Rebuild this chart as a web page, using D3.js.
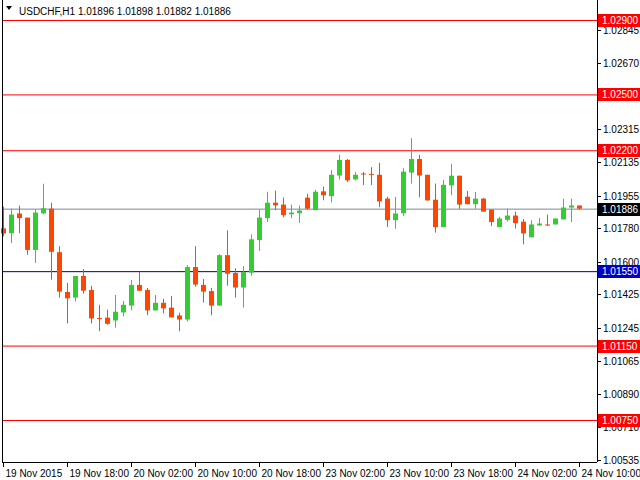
<!DOCTYPE html>
<html>
<head>
<meta charset="utf-8">
<script src="https://cdn.jsdelivr.net/npm/d3@7"></script>
<style>
  body { margin: 0; background: #fff; }
  text { font-family: "Liberation Sans", "DejaVu Sans", sans-serif; font-size: 10px; }
</style>
</head>
<body>
<svg id="chart" width="640" height="480"></svg>
<script>
// USDCHF H1 candles
const opens  = [1.01780,1.01754,1.01860,1.01838,1.01664,1.01861,1.01886,1.01652,1.01438,1.01408,1.01524,1.01449,1.01298,1.01300,1.01285,1.01328,1.01365,1.01476,1.01449,1.01339,1.01380,1.01354,1.01312,1.01290,1.01572,1.01476,1.01443,1.01365,1.01636,1.01540,1.01462,1.01542,1.01717,1.01835,1.01918,1.01908,1.01856,1.01862,1.01945,1.01878,1.01979,1.01953,1.02064,1.02148,1.02043,1.02075,1.02073,1.02068,1.01940,1.01824,1.01861,1.02080,1.02153,1.02068,1.01934,1.01787,1.02011,1.02063,1.01950,1.01910,1.01940,1.01881,1.01787,1.01826,1.01849,1.01816,1.01732,1.01796,1.01801,1.01801,1.01828,1.01892,1.01903];
const highs  = [1.01897,1.01886,1.01902,1.01838,1.01881,1.02020,1.01918,1.01684,1.01487,1.01524,1.01561,1.01471,1.01369,1.01343,1.01422,1.01390,1.01503,1.01545,1.01460,1.01422,1.01401,1.01417,1.01327,1.01582,1.01684,1.01508,1.01460,1.01641,1.01769,1.01566,1.01577,1.01748,1.01881,1.01977,1.01983,1.01945,1.01908,1.01902,1.01966,1.01988,1.02004,1.02094,1.02176,1.02153,1.02083,1.02083,1.02109,1.02132,1.01950,1.01949,1.02103,1.02265,1.02175,1.02068,1.02021,1.02041,1.02127,1.02063,1.01981,1.01976,1.01944,1.01881,1.01842,1.01886,1.01870,1.01830,1.01824,1.01836,1.01854,1.01833,1.01940,1.01940,1.01903];
const lows   = [1.01737,1.01701,1.01754,1.01638,1.01594,1.01856,1.01504,1.01408,1.01269,1.01387,1.01429,1.01269,1.01227,1.01262,1.01246,1.01307,1.01339,1.01445,1.01313,1.01339,1.01323,1.01302,1.01227,1.01279,1.01467,1.01381,1.01313,1.01365,1.01472,1.01408,1.01354,1.01526,1.01659,1.01814,1.01878,1.01840,1.01835,1.01809,1.01881,1.01878,1.01931,1.01920,1.02043,1.02029,1.02038,1.02013,1.02013,1.01894,1.01787,1.01778,1.01847,1.02021,1.01947,1.01930,1.01757,1.01787,1.01958,1.01885,1.01910,1.01885,1.01870,1.01793,1.01787,1.01817,1.01779,1.01694,1.01732,1.01793,1.01793,1.01801,1.01828,1.01814,1.01881];
const closes = [1.01753,1.01854,1.01835,1.01664,1.01865,1.01888,1.01654,1.01440,1.01404,1.01524,1.01445,1.01296,1.01296,1.01267,1.01332,1.01369,1.01476,1.01445,1.01339,1.01380,1.01350,1.01302,1.01290,1.01572,1.01478,1.01440,1.01365,1.01636,1.01536,1.01462,1.01545,1.01721,1.01838,1.01918,1.01904,1.01851,1.01865,1.01876,1.01886,1.01977,1.01958,1.02068,1.02148,1.02038,1.02068,1.02072,1.02070,1.01925,1.01824,1.01860,1.02085,1.02153,1.02064,1.01930,1.01787,1.02014,1.02063,1.01908,1.01910,1.01940,1.01870,1.01814,1.01833,1.01849,1.01808,1.01753,1.01801,1.01806,1.01798,1.01833,1.01892,1.01903,1.01886];

const priceTicks = [1.02845,1.02670,1.02315,1.02135,1.01955,1.01780,1.01600,1.01425,1.01245,1.01065,1.00890,1.00710,1.00535];
const redLevels = [1.02900,1.02500,1.02200,1.01150,1.00750];
const blueLevel = 1.01550;
const bidPrice = 1.01886;
const timeIndex = [0,8,16,24,32,40,48,56,64,72];
const timeLabels = ["19 Nov 2015","19 Nov 18:00","20 Nov 02:00","20 Nov 10:00","20 Nov 18:00","23 Nov 02:00","23 Nov 10:00","23 Nov 18:00","24 Nov 02:00","24 Nov 10:00"];

const svg = d3.select("#chart");
const plotRight = 597, plotBottom = 462;

const x = d3.scaleLinear().domain([0, 72]).range([3, 579]);
const y = d3.scaleLinear().domain([1.029, 1.0075]).range([20, 420]);

const candles = opens.map((o, i) => ({ i, o, h: highs[i], l: lows[i], c: closes[i] }));

// level lines
svg.append("g").selectAll("line").data(redLevels).enter().append("line")
    .attr("x1", 2).attr("x2", plotRight).attr("y1", d => y(d) + 0.5).attr("y2", d => y(d) + 0.5)
    .attr("stroke", "#ff0000");
svg.append("line").attr("x1", 2).attr("x2", plotRight)
    .attr("y1", y(blueLevel) + 0.5).attr("y2", y(blueLevel) + 0.5).attr("stroke", "#000080");
svg.append("line").attr("x1", 2).attr("x2", plotRight)
    .attr("y1", y(bidPrice) + 0.5).attr("y2", y(bidPrice) + 0.5).attr("stroke", "#778899");

// candles
const g = svg.append("g").selectAll("g").data(candles).enter().append("g");
const col = d => d.c >= d.o ? "#32cd32" : "#ff4500";
g.append("line")
    .attr("x1", d => Math.round(x(d.i)) + 0.5).attr("x2", d => Math.round(x(d.i)) + 0.5)
    .attr("y1", d => y(d.h)).attr("y2", d => y(d.l))
    .attr("stroke", col);
g.append("rect")
    .attr("x", d => Math.round(x(d.i)) - 2)
    .attr("width", 5)
    .attr("y", d => y(Math.max(d.o, d.c)))
    .attr("height", d => Math.max(1, Math.abs(y(d.o) - y(d.c))))
    .attr("fill", col);

// frame
svg.append("line").attr("x1", 2.5).attr("x2", 2.5).attr("y1", 0).attr("y2", plotBottom).attr("stroke", "#000");
svg.append("line").attr("x1", plotRight + 0.5).attr("x2", plotRight + 0.5).attr("y1", 0).attr("y2", plotBottom).attr("stroke", "#000");
svg.append("line").attr("x1", 2).attr("x2", plotRight).attr("y1", plotBottom + 0.5).attr("y2", plotBottom + 0.5).attr("stroke", "#000");

// price axis
const pt = svg.append("g").selectAll("g").data(priceTicks).enter().append("g")
    .attr("transform", d => `translate(${plotRight},${Math.round(y(d)) + 0.5})`);
pt.append("line").attr("x1", 0).attr("x2", 4).attr("stroke", "#000");
pt.append("text").attr("x", 6).attr("dy", "0.35em").text(d => d.toFixed(5));

function priceBox(p, fill) {
    const gg = svg.append("g").attr("transform", `translate(${plotRight + 1},${Math.round(y(p))})`);
    gg.append("rect").attr("x", 0).attr("y", -6).attr("width", 42).attr("height", 13).attr("fill", fill);
    gg.append("text").attr("x", 4).attr("dy", "0.35em").attr("fill", "#fff").text(p.toFixed(5));
}
redLevels.forEach(p => priceBox(p, "#ff0000"));
priceBox(blueLevel, "#0000c0");
priceBox(bidPrice, "#000");

// time axis
const tt = svg.append("g").selectAll("g").data(timeIndex).enter().append("g")
    .attr("transform", d => `translate(${Math.round(x(d)) + 0.5},${plotBottom})`);
tt.append("line").attr("y1", 0).attr("y2", 5).attr("stroke", "#000");
tt.append("text").attr("x", 2).attr("y", 15).text((d, i) => timeLabels[i]);

// header
svg.append("path").attr("d", "M6,6 L12,6 L9,10 Z").attr("fill", "#000");
svg.append("text").attr("x", 19).attr("y", 15).text("USDCHF,H1  1.01896 1.01898 1.01882 1.01886");
</script>
</body>
</html>
